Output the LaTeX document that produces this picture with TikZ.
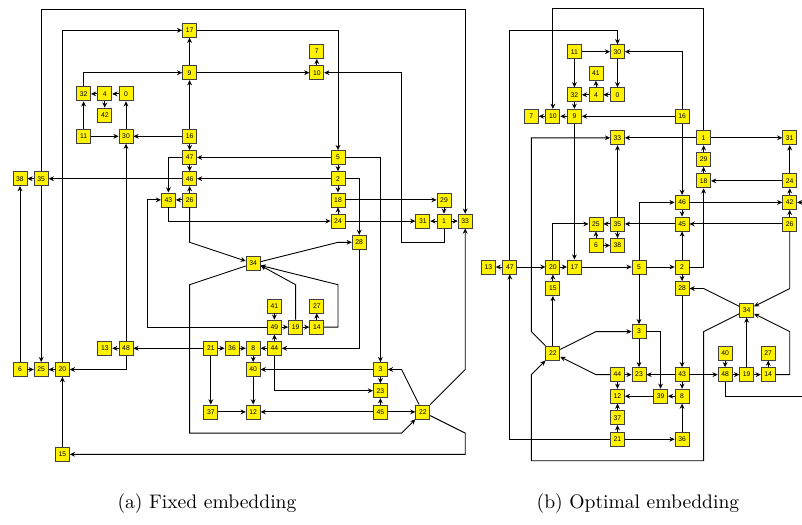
\documentclass[tikz,border=0pt]{standalone}
\usepackage{fontspec}
\newfontfamily\vxfont{Liberation Sans}
\usetikzlibrary{arrows.meta}

\begin{document}
\begin{tikzpicture}[
    vx/.style={
      draw=black!75, fill=yellow, line width=0.4pt,
      minimum size=7pt, inner sep=0pt,
      font=\vxfont\fontsize{3.4}{3.8}\selectfont
    },
    arr/.style={-{Stealth[length=2.6pt,width=2.4pt]}, line width=0.45pt},
    subcap/.style={font=\fontsize{9.8}{12}\selectfont}
  ]
  \useasboundingbox (0,0) rectangle (401pt,-262pt);
  \clip (0,0) rectangle (401pt,-262pt);

  % ===== (a) fixed embedding =====
  \begin{scope}[shift={(10pt,-15.15pt)}, x=10.6pt, y=-10.6pt]
    \node[vx] (f17) at (8,0) {17};
    \node[vx] (f7)  at (14,1) {7};
    \node[vx] (f9)  at (8,2) {9};   \node[vx] (f10) at (14,2) {10};
    \node[vx] (f32) at (3,3) {32};  \node[vx] (f4)  at (4,3) {4};   \node[vx] (f0) at (5,3) {0};
    \node[vx] (f42) at (4,4) {42};
    \node[vx] (f11) at (3,5) {11};  \node[vx] (f30) at (5,5) {30};  \node[vx] (f16) at (8,5) {16};
    \node[vx] (f47) at (8,6) {47};  \node[vx] (f5)  at (15,6) {5};
    \node[vx] (f38) at (0,7) {38};  \node[vx] (f35) at (1,7) {35};
    \node[vx] (f46) at (8,7) {46};  \node[vx] (f2)  at (15,7) {2};
    \node[vx] (f43) at (7,8) {43};  \node[vx] (f26) at (8,8) {26};
    \node[vx] (f18) at (15,8) {18}; \node[vx] (f29) at (20,8) {29};
    \node[vx] (f24) at (15,9) {24}; \node[vx] (f31) at (19,9) {31};
    \node[vx] (f1)  at (20,9) {1};  \node[vx] (f33) at (21,9) {33};
    \node[vx] (f28) at (16,10) {28};
    \node[vx] (f34) at (11,11) {34};
    \node[vx] (f41) at (12,13) {41}; \node[vx] (f27) at (14,13) {27};
    \node[vx] (f49) at (12,14) {49}; \node[vx] (f19) at (13,14) {19}; \node[vx] (f14) at (14,14) {14};
    \node[vx] (f13) at (4,15) {13};  \node[vx] (f48) at (5,15) {48};
    \node[vx] (f21) at (9,15) {21};  \node[vx] (f36) at (10,15) {36};
    \node[vx] (f8)  at (11,15) {8};  \node[vx] (f44) at (12,15) {44};
    \node[vx] (f6)  at (0,16) {6};   \node[vx] (f25) at (1,16) {25};  \node[vx] (f20) at (2,16) {20};
    \node[vx] (f40) at (11,16) {40}; \node[vx] (f3)  at (17,16) {3};
    \node[vx] (f23) at (17,17) {23};
    \node[vx] (f37) at (9,18) {37};  \node[vx] (f12) at (11,18) {12};
    \node[vx] (f45) at (17,18) {45}; \node[vx] (f22) at (19,18) {22};
    \node[vx] (f15) at (2,20) {15};

    % edges
    \draw[arr] (f9) -- (f17);
    \draw[arr] (f16) -- (f9);
    \draw[arr] (f17) -| (f5);
    \draw[arr] (f20) |- (f17);
    \draw[arr] (f32) |- (f9);
    \draw[arr] (f9) -- (f10);
    \draw[arr] (f10) -- (f7);
    \draw[arr] (f1) -- (20,10) -| (18,2) -- (f10);
    \draw[arr] (f0) -- (f4);
    \draw[arr] (f4) -- (f32);
    \draw[arr] (f4) -- (f42);
    \draw[arr] (f11) -- (f32);
    \draw[arr] (f11) -- (f30);
    \draw[arr] (f16) -- (f30);
    \draw[arr] (f30) -- (f0);
    \draw[arr] (f48) -- (f30);
    \draw[arr] (f16) -- (f47);
    \draw[arr] (f47) -- (f46);
    \draw[arr] (f5) -- (f47);
    \draw[arr] (f47) -| (f43);
    \draw[arr] (f5) -- (f2);
    \draw[arr] (f5) -| (f3);
    \draw[arr] (f2) -- (f46);
    \draw[arr] (f2) -| (f28);
    \draw[arr] (f46) -- (f35);
    \draw[arr] (f35) -- (f38);
    \draw[arr] (f26) -- (f46);
    \draw[arr] (f26) -- (f43);
    \draw[arr] (f2) -- (f18);
    \draw[arr] (f24) -- (f18);
    \draw[arr] (f18) -- (f29);
    \draw[arr] (f29) -- (f1);
    \draw[arr] (f1) -- (f31);
    \draw[arr] (f1) -- (f33);
    \draw[arr] (f24) -- (f31);
    \draw[arr] (f43) |- (f24);
    \draw[arr] (f26) -- (8,10) -- (f34);
    \draw[arr] (f34) -- (15,10) -- (f28);
    \draw[arr] (f34) -- (8,12) -- (8,19) -- (18,19) -- (f22);
    \draw[arr] (f19) -- (13,12) -- ([yshift=-1pt]f34.east);
    \draw[arr] (f14) -| (15,12) -- ([yshift=-1pt]f34.east);
    \draw[arr] (f49) -| (6,8) -- (f43);
    \draw[arr] (f41) -- (f49);
    \draw[arr] (f49) -- (f19);
    \draw[arr] (f19) -- (f14);
    \draw[arr] (f14) -- (f27);
    \draw[arr] (f44) -- (f49);
    \draw[arr] (f44) -- (f8);
    \draw[arr] (f36) -- (f8);
    \draw[arr] (f21) -- (f36);
    \draw[arr] (f21) -- (f48);
    \draw[arr] (f48) -- (f13);
    \draw[arr] (f48) |- (f20);
    \draw[arr] (f20) -- (f25);
    \draw[arr] (f6) -- (f25);
    \draw[arr] (f35) -- (f25);
    \draw[arr] (f6) -- (f38);
    \draw[arr] (f15) -- (f20);
    \draw[arr] (f22) -- (21,19) -- (21,20) -- (f15);
    \draw[arr] (f22) -- (21,16) -- (f33);
    \draw[arr] (f22) -- (18,16) -- (f3);
    \draw[arr] (f3) -- (f40);
    \draw[arr] (f3) -- (f23);
    \draw[arr] (f45) -- (f23);
    \draw[arr] (f45) -- (f12);
    \draw[arr] (f45) -- (f22);
    \draw[arr] (f40) -- (f12);
    \draw[arr] (f37) -- (f12);
    \draw[arr] (f21) -- (f37);
    \draw[arr] (f8) -- (f40);
    \draw[arr] (f44) |- (f23);
    \draw[arr] (f28) |- (f44);
    \draw[arr] (f35) -- (1,-1) -- (21,-1) -- (f33);
  \end{scope}

  % ===== (b) optimal embedding =====
  \begin{scope}[shift={(244.15pt,-25.85pt)}, x=10.765pt, y=-10.765pt]
    \node[vx] (o11) at (4,0) {11};  \node[vx] (o30) at (6,0) {30};
    \node[vx] (o41) at (5,1) {41};
    \node[vx] (o32) at (4,2) {32};  \node[vx] (o4)  at (5,2) {4};   \node[vx] (o0) at (6,2) {0};
    \node[vx] (o7)  at (2,3) {7};   \node[vx] (o10) at (3,3) {10};  \node[vx] (o9) at (4,3) {9};
    \node[vx] (o16) at (9,3) {16};
    \node[vx] (o33) at (6,4) {33};  \node[vx] (o1)  at (10,4) {1};  \node[vx] (o31) at (14,4) {31};
    \node[vx] (o29) at (10,5) {29};
    \node[vx] (o18) at (10,6) {18}; \node[vx] (o24) at (14,6) {24};
    \node[vx] (o46) at (9,7) {46};  \node[vx] (o42) at (14,7) {42};
    \node[vx] (o25) at (5,8) {25};  \node[vx] (o35) at (6,8) {35};
    \node[vx] (o45) at (9,8) {45};  \node[vx] (o26) at (14,8) {26};
    \node[vx] (o6)  at (5,9) {6};   \node[vx] (o38) at (6,9) {38};
    \node[vx] (o13) at (0,10) {13}; \node[vx] (o47) at (1,10) {47};
    \node[vx] (o20) at (3,10) {20}; \node[vx] (o17) at (4,10) {17};
    \node[vx] (o5)  at (7,10) {5};  \node[vx] (o2)  at (9,10) {2};
    \node[vx] (o15) at (3,11) {15}; \node[vx] (o28) at (9,11) {28};
    \node[vx] (o34) at (12,12) {34};
    \node[vx] (o3)  at (7,13) {3};
    \node[vx] (o22) at (3,14) {22}; \node[vx] (o40) at (11,14) {40}; \node[vx] (o27) at (13,14) {27};
    \node[vx] (o44) at (6,15) {44}; \node[vx] (o23) at (7,15) {23}; \node[vx] (o43) at (9,15) {43};
    \node[vx] (o48) at (11,15) {48}; \node[vx] (o19) at (12,15) {19}; \node[vx] (o14) at (13,15) {14};
    \node[vx] (o12) at (6,16) {12}; \node[vx] (o39) at (8,16) {39}; \node[vx] (o8) at (9,16) {8};
    \node[vx] (o37) at (6,17) {37};
    \node[vx] (o21) at (6,18) {21}; \node[vx] (o36) at (9,18) {36};

    % edges
    \draw[arr] (o11) -- (o30);
    \draw[arr] (o11) -- (o32);
    \draw[arr] (o30) -- (o0);
    \draw[arr] (o0) -- (o4);
    \draw[arr] (o4) -- (o32);
    \draw[arr] (o4) -- (o41);
    \draw[arr] (o32) -- (o9);
    \draw[arr] (o9) -- (o10);
    \draw[arr] (o10) -- (o7);
    \draw[arr] (o47) -- (1,-1) -| (o30);
    \draw[arr] (o1) -- (10,-2) -| (o10);
    \draw[arr] (o16) |- (o30);
    \draw[arr] (o16) -- (o9);
    \draw[arr] (o16) -- (o46);
    \draw[arr] (o1) -- (o33);
    \draw[arr] (o1) -- (o31);
    \draw[arr] (o29) -- (o1);
    \draw[arr] (o18) -- (o29);
    \draw[arr] (o24) -- (o31);
    \draw[arr] (o24) -- (o18);
    \draw[arr] (o42) -- (o24);
    \draw[arr] (o26) -- (o42);
    \draw[arr] (o46) -- (o42);
    \draw[arr] (o46) -- (o45);
    \draw[arr] (o26) -- (o45);
    \draw[arr] (o45) -- (o35);
    \draw[arr] (o2) -- (o45);
    \draw[arr] (o5) |- (o46);
    \draw[arr] (o2) -| (o18);
    \draw[arr] (o5) -- (o2);
    \draw[arr] (o2) -- (o28);
    \draw[arr] (o34) -- (10,11) -- (o28);
    \draw[arr] (o26) -- (14,11) -- (o34);
    \draw[arr] (o35) -- (o25);
    \draw[arr] (o35) -- (o38);
    \draw[arr] (o6) -- (o25);
    \draw[arr] (o6) -- (o38);
    \draw[arr] (o35) -- (o33);
    \draw[arr] (o20) |- (o25);
    \draw[arr] (o9) -- (o17);
    \draw[arr] (o47) -- (o13);
    \draw[arr] (o47) -- (o20);
    \draw[arr] (o20) -- (o17);
    \draw[arr] (o17) -- (o5);
    \draw[arr] (o15) -- (o20);
    \draw[arr] (o21) -| (o47);
    \draw[arr] (o22) -- (2,13) |- (o33);
    \draw[arr] (o22) -- (o15);
    \draw[arr] (o22) -- (5,13) -- (o3);
    \draw[arr] (o44) -- (5,15) -- (o22);
    \draw[arr] (o34) -- (10,13) -- (10,19) -- (2,19) -- (2,15) -- (o22);
    \draw[arr] (o5) -- (o3);
    \draw[arr] (o3) -- (o23);
    \draw[arr] (o3) -| (o39);
    \draw[arr] (o43) -- (o23);
    \draw[arr] (o44) -- (o23);
    \draw[arr] (o44) -- (o12);
    \draw[arr] (o37) -- (o12);
    \draw[arr] (o21) -- (o37);
    \draw[arr] (o39) -- (o12);
    \draw[arr] (o8) -- (o39);
    \draw[arr] (o43) -- (o8);
    \draw[arr] (o36) -- (o8);
    \draw[arr] (o21) -- (o36);
    \draw[arr] (o43) -- (o48);
    \draw[arr] (o40) -- (o48);
    \draw[arr] (o48) -- (o19);
    \draw[arr] (o19) -- (o14);
    \draw[arr] (o14) -- (o27);
    \draw[arr] (o19) -- (o34);
    \draw[arr] (o14) -- (14,15) -- (14,13) -- (o34);
    \draw[arr] (o28) -- (o43);
    % edges leaving the frame on the right
    \draw (o48) |- (15,16);
    \draw[arr] (15,7) -- (o42);
  \end{scope}

  % captions
  \node[subcap] (capa) at (103.5pt,-252pt) {(a) Fixed embedding};
  \node[subcap] (capb) at (319pt,-252pt) {(b) Optimal embedding};
\end{tikzpicture}
\end{document}
